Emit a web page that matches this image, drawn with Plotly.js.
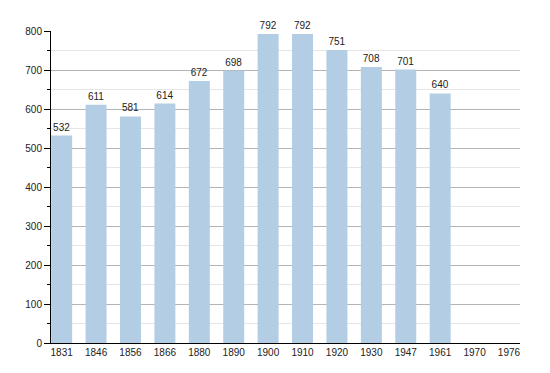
<!DOCTYPE html>
<html>
<head>
<meta charset="utf-8">
<script src="https://cdn.plot.ly/plotly-3.0.1.min.js"></script>
<style>html,body{margin:0;padding:0;background:#fff;}#chart{width:550px;height:373px;}</style>
</head>
<body>
<div id="chart"></div>
<script>
const years = ["1831","1846","1856","1866","1880","1890","1900","1910","1920","1930","1947","1961","1970","1976"];
const population = [532,611,581,614,672,698,792,792,751,708,701,640,null,null];
const yTicks = [0,100,200,300,400,500,600,700,800];

const labels = population.map(v => v === null ? "" : String(v));

Plotly.newPlot("chart", [{
  type: "bar",
  x: years,
  y: population,
  text: labels,
  textposition: "outside",
  cliponaxis: false,
  textfont: {family: "Liberation Sans, Arial, sans-serif", size: 10, color: "#222"},
  marker: {color: "#b3cde4", line: {width: 0}},
  hoverinfo: "none"
}], {
  width: 550, height: 373,
  margin: {l: 51, r: 30, t: 31, b: 30, pad: 0},
  paper_bgcolor: "#fff", plot_bgcolor: "#fff",
  bargap: 0.39,
  showlegend: false,
  font: {family: "Liberation Sans, Arial, sans-serif", size: 10, color: "#222"},
  xaxis: {
    type: "category",
    range: [-0.31, 13.32],
    showline: true, linecolor: "#000", linewidth: 1,
    showgrid: false, ticks: "", zeroline: false,
    tickfont: {size: 10, color: "#222"},
    fixedrange: true
  },
  yaxis: {
    range: [0, 800],
    tickvals: yTicks,
    showline: true, linecolor: "#000", linewidth: 1,
    ticks: "outside", ticklen: 6, tickcolor: "#000", tickwidth: 1,
    showgrid: true, gridcolor: "#b4b4b4", gridwidth: 1,
    zeroline: false,
    tickfont: {size: 10, color: "#222"},
    minor: {dtick: 50, tick0: 0, showgrid: true, gridcolor: "#e6e6e6", gridwidth: 1, ticks: "outside", ticklen: 3, tickcolor: "#000"},
    fixedrange: true
  }
}, {displayModeBar: false, staticPlot: true});
</script>
</body>
</html>
